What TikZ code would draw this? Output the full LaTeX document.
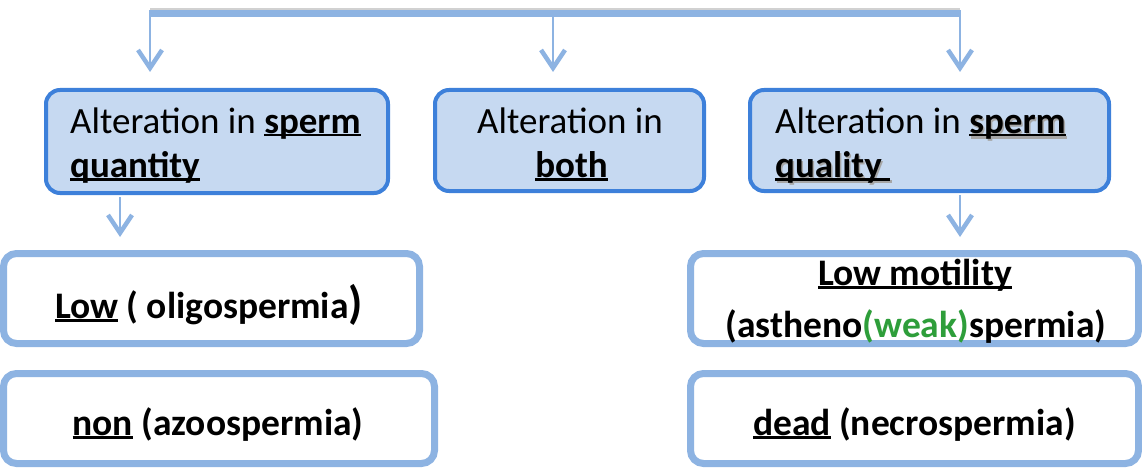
\documentclass[tikz,border=0pt]{standalone}
\usepackage{fontspec}
\setmainfont{Carlito}
\usetikzlibrary{arrows.meta}
\definecolor{topfill}{HTML}{C6D9F1}
\definecolor{topdraw}{HTML}{3D80DA}
\definecolor{lowdraw}{HTML}{8DB3E2}
\definecolor{grn}{HTML}{2E9E3A}
\newcommand\myul[1]{\setbox0\hbox{#1}\rlap{\rule[-3.5pt]{\wd0}{2.4pt}}\box0\relax}
\newcommand\myshd[1]{\setbox2\hbox{#1}\rlap{\raisebox{-2pt}{\hspace*{1.5pt}\textcolor{black!35}{\copy2}}}\box2\relax}
\begin{document}
\begin{tikzpicture}[x=1pt,y=-1pt,
  topbox/.style={draw=topdraw, fill=topfill, line width=4pt, rounded corners=14pt, inner sep=0pt},
  lowbox/.style={draw=lowdraw, fill=white, line width=7pt, rounded corners=13pt, inner sep=0pt},
  conn/.style={draw=lowdraw, line width=2pt, -{Straight Barb[length=18pt,width=24pt,line width=4.5pt]}},
  txt/.style={inner sep=0pt, font=\fontsize{37}{44}\selectfont},
  btxt/.style={inner sep=0pt, font=\fontsize{37.5}{44}\selectfont\bfseries}]
\useasboundingbox (0,0) rectangle (1142,476);
% boxes
\node[topbox, minimum width=342pt, minimum height=103pt] (b1) at (217,141.5) {};
\node[topbox, minimum width=269pt, minimum height=101pt] (b2) at (569.5,140.5) {};
\node[topbox, minimum width=359pt, minimum height=101pt] (b3) at (929.5,140.5) {};
\node[lowbox, minimum width=416pt, minimum height=90pt] (l1) at (211.5,298.5) {};
\node[lowbox, minimum width=431pt, minimum height=90pt] (l2) at (219,418.5) {};
\node[lowbox, minimum width=448pt, minimum height=90pt] (r1) at (914.5,298.5) {};
\node[lowbox, minimum width=448pt, minimum height=90pt] (r2) at (914.5,418.5) {};
% top bar
\coordinate (tl) at (150,13.5);
\coordinate (tm) at (553,13.5);
\coordinate (tr) at (960,13.5);
\draw[black!30, line width=5pt, opacity=0.6] ([yshift=3pt]tl) -- ([yshift=3pt]tr);
\draw[lowdraw, line width=6.5pt] ([xshift=-1pt]tl) -- ([xshift=1pt]tr);
\draw[conn, shorten >=16pt] (tl) -- (tl |- b1.north);
\draw[conn, shorten >=16pt] (tm) -- (tm |- b2.north);
\draw[conn, shorten >=16pt] (tr) -- (tr |- b3.north);
\coordinate (a1) at (120,0);
\coordinate (a3) at (960,0);
\draw[conn, shorten >=13pt, shorten <=2pt] (a1 |- b1.south) -- (a1 |- l1.north);
\draw[conn, shorten >=13pt, shorten <=2pt] (a3 |- b3.south) -- (a3 |- r1.north);
% texts
\node[txt, anchor=base west] (t1a) at (70,133) {Alteration in \myul{\textbf{sperm}}};
\node[txt, anchor=base west] (t1b) at (70,177) {\myul{\textbf{quantity}}};
\node[txt, anchor=base] (t2a) at (570,133) {Alteration in};
\node[txt, anchor=base] (t2b) at (571.5,177) {\myul{\textbf{both}}};
\node[txt, anchor=base west] (t3a) at (775,133) {Alteration in \myshd{\myul{\textbf{sperm}}}};
\node[txt, anchor=base west] (t3b) at (775,177) {\myshd{\myul{\textbf{quality }}}};
\node[btxt, anchor=base] (l1t) at (209,318) {\myul{Low} ( oligospermia{\fontsize{46}{46}\selectfont)}};
\node[btxt, anchor=base] (l2t) at (218,435) {\myul{non} (azoospermia)};
\node[btxt, anchor=base] (r1a) at (915,285) {\myul{Low motility}};
\node[btxt, anchor=base] (r1b) at (916,337) {(astheno\textcolor{grn}{(weak)}spermia)};
\node[btxt, anchor=base] (r2t) at (914.5,435) {\myul{dead} (necrospermia)};
\end{tikzpicture}
\end{document}
